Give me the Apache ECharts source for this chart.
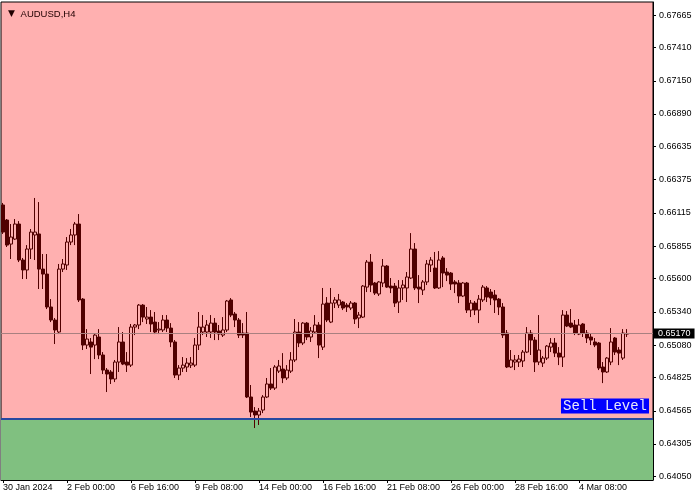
<!DOCTYPE html>
<html><head><meta charset="utf-8">
<script src="https://cdn.jsdelivr.net/npm/echarts@6/dist/echarts.min.js"></script>
<style>html,body{margin:0;padding:0;background:#fff}#c{width:700px;height:500px}</style>
</head><body><div id="c"></div>
<script>
const openP = [
0.66177,0.66059,0.65871,0.65910,0.66028,0.65746,0.65668,0.65832,0.65942,0.65950,
0.65675,0.65636,0.65378,0.65276,0.65182,0.65675,0.65707,0.65887,0.65942,0.66028,
0.65440,0.65080,0.65104,0.65080,0.65143,0.65002,0.64884,0.64869,0.64814,0.64947,
0.65104,0.64947,0.64923,0.65221,0.65237,0.65393,0.65284,0.65299,0.65260,0.65198,
0.65198,0.65276,0.65213,0.65104,0.64845,0.64900,0.64908,0.64923,0.64923,0.65080,
0.65182,0.65182,0.65182,0.65252,0.65190,0.65158,0.65198,0.65433,0.65323,0.65276,
0.65174,0.65174,0.64673,0.64563,0.64532,0.64571,0.64673,0.64775,0.64743,0.64876,
0.64892,0.64822,0.64876,0.64963,0.65182,0.65096,0.65252,0.65143,0.65182,0.65237,
0.65064,0.65409,0.65260,0.65409,0.65393,0.65417,0.65393,0.65370,0.65409,0.65292,
0.65299,0.65534,0.65730,0.65566,0.65480,0.65566,0.65699,0.65542,0.65542,0.65417,
0.65527,0.65527,0.65605,0.65832,0.65534,0.65511,0.65574,0.65707,0.65683,0.65527,
0.65762,0.65652,0.65644,0.65574,0.65566,0.65464,0.65566,0.65354,0.65409,0.65354,
0.65433,0.65527,0.65495,0.65472,0.65440,0.65378,0.65174,0.64908,0.64947,0.64947,
0.64955,0.65025,0.65174,0.65119,0.64947,0.64939,0.64978,0.65064,0.65096,0.65017,
0.64986,0.65315,0.65252,0.65237,0.65166,0.65245,0.65174,0.65143,0.65104,0.65096,
0.64908,0.64869,0.64947,0.65135,0.65041,0.64978,0.65166
];
const closeP = [
0.65965,0.65863,0.65926,0.66028,0.65746,0.65668,0.65832,0.65965,0.65965,0.65675,
0.65636,0.65378,0.65276,0.65198,0.65675,0.65715,0.65887,0.65942,0.66028,0.65433,
0.65080,0.65127,0.65064,0.65158,0.65002,0.64884,0.64853,0.64814,0.64947,0.65104,
0.64931,0.64923,0.65221,0.65237,0.65393,0.65299,0.65299,0.65245,0.65182,0.65205,
0.65276,0.65213,0.65104,0.64845,0.64900,0.64923,0.64939,0.64939,0.65080,0.65221,
0.65221,0.65237,0.65252,0.65182,0.65166,0.65198,0.65425,0.65315,0.65276,0.65158,
0.65158,0.64673,0.64555,0.64532,0.64563,0.64673,0.64775,0.64743,0.64908,0.64916,
0.64822,0.64884,0.64963,0.65182,0.65096,0.65252,0.65143,0.65190,0.65237,0.65080,
0.65401,0.65276,0.65409,0.65433,0.65433,0.65370,0.65378,0.65409,0.65284,0.65315,
0.65542,0.65730,0.65550,0.65487,0.65574,0.65699,0.65534,0.65527,0.65409,0.65527,
0.65550,0.65613,0.65832,0.65527,0.65519,0.65574,0.65715,0.65746,0.65527,0.65746,
0.65644,0.65628,0.65558,0.65558,0.65464,0.65566,0.65354,0.65409,0.65354,0.65440,
0.65534,0.65456,0.65448,0.65433,0.65378,0.65158,0.64908,0.64963,0.64963,0.64970,
0.65025,0.65174,0.65119,0.64947,0.65041,0.64978,0.65072,0.65096,0.65017,0.64986,
0.65315,0.65229,0.65221,0.65174,0.65237,0.65174,0.65135,0.65119,0.65080,0.64900,
0.64869,0.64978,0.65104,0.65025,0.65017,0.65174,0.65170
];
const lowP = [
0.65950,0.65848,0.65754,0.65903,0.65730,0.65597,0.65597,0.65754,0.65746,0.65519,
0.65519,0.65362,0.65260,0.65088,0.65166,0.65652,0.65668,0.65863,0.65863,0.65417,
0.65041,0.65049,0.64853,0.64970,0.64970,0.64853,0.64712,0.64775,0.64790,0.64869,
0.64923,0.64869,0.64908,0.65158,0.65205,0.65260,0.65245,0.65182,0.65166,0.65166,
0.65182,0.65182,0.65064,0.64822,0.64806,0.64869,0.64869,0.64900,0.64908,0.65041,
0.65158,0.65143,0.65135,0.65119,0.65119,0.65143,0.65182,0.65299,0.65221,0.65135,
0.65135,0.64665,0.64516,0.64430,0.64454,0.64547,0.64665,0.64728,0.64728,0.64861,
0.64782,0.64806,0.64861,0.64947,0.65064,0.65080,0.65119,0.65104,0.65174,0.64978,
0.65041,0.65260,0.65252,0.65370,0.65370,0.65354,0.65339,0.65354,0.65245,0.65213,
0.65292,0.65495,0.65495,0.65472,0.65464,0.65534,0.65527,0.65487,0.65378,0.65331,
0.65433,0.65417,0.65597,0.65511,0.65409,0.65472,0.65550,0.65652,0.65519,0.65519,
0.65534,0.65581,0.65511,0.65487,0.65409,0.65456,0.65331,0.65299,0.65315,0.65252,
0.65417,0.65417,0.65393,0.65331,0.65315,0.65135,0.64900,0.64900,0.64884,0.64908,
0.64908,0.65017,0.65002,0.64869,0.64923,0.64908,0.64963,0.65025,0.64986,0.64923,
0.64908,0.65221,0.65213,0.65158,0.65158,0.65143,0.65096,0.65080,0.65064,0.64884,
0.64782,0.64861,0.64923,0.65002,0.64923,0.64963,0.65143
];
const highP = [
0.66193,0.66067,0.66028,0.66067,0.66051,0.65762,0.65863,0.65989,0.66232,0.66200,
0.65793,0.65793,0.65440,0.65292,0.65715,0.65754,0.65926,0.65989,0.66044,0.66106,
0.65448,0.65205,0.65135,0.65166,0.65205,0.65025,0.64900,0.64884,0.64963,0.65221,
0.65182,0.65025,0.65245,0.65245,0.65401,0.65401,0.65378,0.65354,0.65339,0.65260,
0.65315,0.65315,0.65252,0.65119,0.64923,0.64986,0.64978,0.64986,0.65135,0.65339,
0.65315,0.65276,0.65315,0.65292,0.65237,0.65299,0.65433,0.65448,0.65339,0.65292,
0.65252,0.65339,0.64767,0.64594,0.64587,0.64688,0.64822,0.64900,0.64923,0.64963,
0.65017,0.64923,0.65025,0.65284,0.65260,0.65260,0.65260,0.65221,0.65315,0.65260,
0.65527,0.65456,0.65527,0.65456,0.65480,0.65425,0.65409,0.65425,0.65417,0.65339,
0.65550,0.65746,0.65793,0.65574,0.65581,0.65754,0.65707,0.65605,0.65566,0.65589,
0.65589,0.65652,0.65957,0.65879,0.65628,0.65589,0.65746,0.65769,0.65809,0.65816,
0.65777,0.65683,0.65652,0.65589,0.65589,0.65574,0.65574,0.65433,0.65425,0.65472,
0.65550,0.65542,0.65519,0.65511,0.65448,0.65409,0.65198,0.65041,0.65002,0.65002,
0.65041,0.65221,0.65198,0.65143,0.65315,0.64994,0.65080,0.65135,0.65135,0.65064,
0.65354,0.65346,0.65362,0.65276,0.65284,0.65252,0.65198,0.65174,0.65135,0.65104,
0.64947,0.64986,0.65213,0.65143,0.65064,0.65205,0.65205
];
const xTickLabels = ['30 Jan 2024','2 Feb 00:00','6 Feb 16:00','9 Feb 08:00','14 Feb 00:00','16 Feb 16:00','21 Feb 08:00','26 Feb 00:00','28 Feb 16:00','4 Mar 08:00'];
const yTickValues = [0.64050,0.64305,0.64565,0.64825,0.65080,0.65340,0.65600,0.65855,0.66115,0.66375,0.66635,0.66890,0.67150,0.67410,0.67665];
const currentPrice = 0.65170;
const sellLevel = 0.64505;
const yMin = 0.64023, yMax = 0.67767;
const TICK_EVERY = 16;
const SLOTS = 163;

const cats = Array.from({length: SLOTS}, (_, i) => String(i));
const candles = openP.map((o, i) => [o, closeP[i], lowP[i], highP[i]]);
const showTick = (i) => i % TICK_EVERY === 0 && (i / TICK_EVERY) < xTickLabels.length;

const DARK = '#500000';
const chart = echarts.init(document.getElementById('c'), null, {renderer: 'canvas'});
chart.setOption({
  animation: false,
  title: {
    text: '{t|▼} AUDUSD,H4', left: 3, top: 4,
    textStyle: { fontSize: 9.5, fontWeight: 'normal', color: '#200000', fontFamily: 'Liberation Sans',
      rich: { t: { fontSize: 9, color: '#200000', fontFamily: 'DejaVu Sans', padding: [0, 3, 0, 0] } } }
  },
  grid: { left: 1, top: 2, right: 47, bottom: 20, show: true, backgroundColor: '#ffb0b0',
    borderColor: '#000', borderWidth: 1, containLabel: false },
  xAxis: {
    type: 'category', data: cats, boundaryGap: true, z: 10,
    axisLine: { show: true, lineStyle: { color: '#000', width: 1 } },
    axisTick: { show: true, alignWithLabel: true, interval: showTick, length: 3, lineStyle: { color: '#000' } },
    axisLabel: { interval: showTick, formatter: (v, i) => xTickLabels[Math.round(Number(v) / TICK_EVERY)] || '',
      align: 'left', color: '#000', fontSize: 9, fontFamily: 'Liberation Sans', margin: 3 },
    splitLine: { show: false }
  },
  yAxis: {
    type: 'value', position: 'right', min: yMin, max: yMax, z: 10,
    axisLine: { show: true, lineStyle: { color: '#000', width: 1 } },
    axisTick: { show: true, length: 3, customValues: yTickValues, lineStyle: { color: '#000' } },
    axisLabel: { customValues: yTickValues, formatter: v => v.toFixed(5), color: '#000', fontSize: 9,
      fontFamily: 'Liberation Sans', margin: 6 },
    splitLine: { show: false }
  },
  series: [
    {
      type: 'line', data: [], z: 1, silent: true,
      markArea: { silent: true, itemStyle: { color: '#80c080', opacity: 1 },
        data: [[{ yAxis: yMin }, { yAxis: sellLevel }]] },
      markLine: {
        silent: true, symbol: ['none', 'none'], animation: false, precision: 6,
        data: [
          { yAxis: currentPrice, lineStyle: { color: '#a88080', width: 1, type: 'solid' },
            label: { show: true, position: 'end', formatter: currentPrice.toFixed(5), backgroundColor: '#000',
              color: '#fff', fontSize: 9, fontFamily: 'Liberation Sans', padding: [1, 4, 0, 4], distance: 1 } },
          { yAxis: sellLevel, lineStyle: { color: '#2848a0', width: 2, type: 'solid' },
            label: { show: true, position: 'insideEndTop', formatter: 'Sell Level', backgroundColor: '#0000ff',
              color: '#e8e8f8', fontFamily: 'Liberation Mono', fontSize: 14, padding: [1, 2, 0, 2], distance: [4, 5] } }
        ]
      }
    },
    {
      type: 'candlestick', z: 3, barWidth: 3, data: candles,
      itemStyle: { color: '#ffb0b0', color0: DARK, borderColor: DARK, borderColor0: DARK, borderWidth: 1 },
      emphasis: { disabled: true }
    }
  ]
});
</script>
</body></html>
